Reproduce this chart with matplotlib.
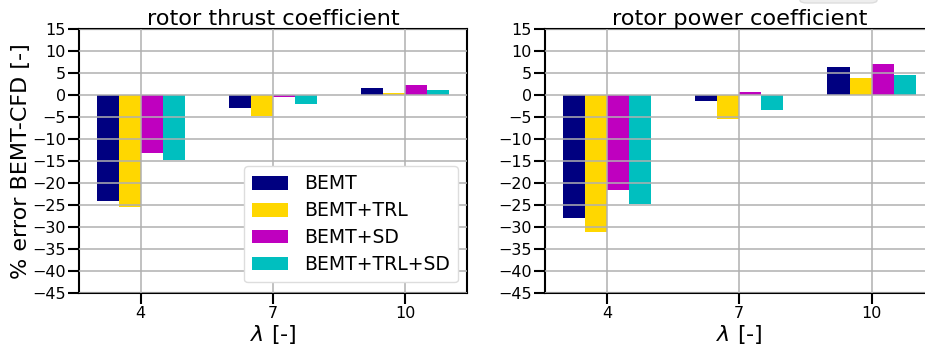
import matplotlib
matplotlib.use("Agg")
import matplotlib.pyplot as plt
from matplotlib.patches import FancyBboxPatch
import numpy as np

plt.rcParams['font.family'] = ['DejaVu Sans']

tsr = [4, 7, 10]
tick_labels = ["4", "7", "10"]
models = ["BEMT", "BEMT+TRL", "BEMT+SD", "BEMT+TRL+SD"]
colors = ["#000080", "#ffd700", "#bf00bf", "#00bfbf"]

# % error BEMT vs CFD, thrust coefficient
ct_bemt = [-24.2, -3.1, 1.6]
ct_trl = [-25.5, -4.9, 0.45]
ct_sd = [-13.3, -0.4, 2.3]
ct_trl_sd = [-14.7, -2.2, 1.1]

# % error BEMT vs CFD, power coefficient
cp_bemt = [-28.0, -1.3, 6.35]
cp_trl = [-31.2, -5.6, 3.85]
cp_sd = [-21.7, 0.7, 7.0]
cp_trl_sd = [-24.9, -3.5, 4.5]

fig = plt.figure(figsize=(9.25, 3.47), dpi=100)
W, H = 925, 347
ax1 = fig.add_axes([79 / W, 1 - 293 / H, 388 / W, (293 - 28.7) / H])
ax2 = fig.add_axes([545.3 / W, 1 - 293 / H, 388 / W, (293 - 28.7) / H])

width = 0.5
offsets = [-0.75, -0.25, 0.25, 0.75]


def draw(ax, series, title):
    x = np.array(tsr, dtype=float)
    for vals, off, c, lab in zip(series, offsets, colors, models):
        ax.bar(x + off, vals, width=width, color=c, label=lab, zorder=1)
    ax.set_xlim(2.6, 11.4)
    ax.set_ylim(-45, 15)
    ax.set_yticks(np.arange(-45, 16, 5))
    ax.set_xticks(tsr)
    ax.set_xticklabels(tick_labels)
    ax.set_axisbelow(False)
    ax.grid(True, color="#b0b0b0", linewidth=1.3, alpha=0.85, zorder=3)
    ax.tick_params(axis="both", which="major", length=8, width=1.5,
                   labelsize=11.5, pad=1.5, color="black")
    for s in ax.spines.values():
        s.set_linewidth(1.5)
        s.set_color("black")
        s.set_zorder(2)
    ax.set_title(title, fontsize=16.2, pad=2)
    ax.set_xlabel(r"$\lambda$ [-]", fontsize=16, labelpad=1)


draw(ax1, [ct_bemt, ct_trl, ct_sd, ct_trl_sd], "rotor thrust coefficient")
draw(ax2, [cp_bemt, cp_trl, cp_sd, cp_trl_sd], "rotor power coefficient")
ax1.set_ylabel("% error BEMT-CFD [-]", fontsize=16, labelpad=1)

leg = ax1.legend(loc="lower right", fontsize=13.5, handlelength=1.9,
                 handleheight=0.75, handletextpad=0.85, labelspacing=0.42,
                 borderpad=0.45, borderaxespad=0.0, framealpha=1,
                 edgecolor="#dddddd", fancybox=True,
                 bbox_to_anchor=(0.977, 0.04))
leg.set_zorder(5)

# edge of a boxed note sitting above the right panel
fig.patches.append(FancyBboxPatch((800 / W, 1 - 3 / H), 77 / W, 10 / H,
                                  boxstyle="round,pad=0,rounding_size=0.008",
                                  transform=fig.transFigure,
                                  facecolor="#eeeeee", edgecolor="#dddddd",
                                  linewidth=1, figure=fig))

fig.savefig("out.png", dpi=100)
